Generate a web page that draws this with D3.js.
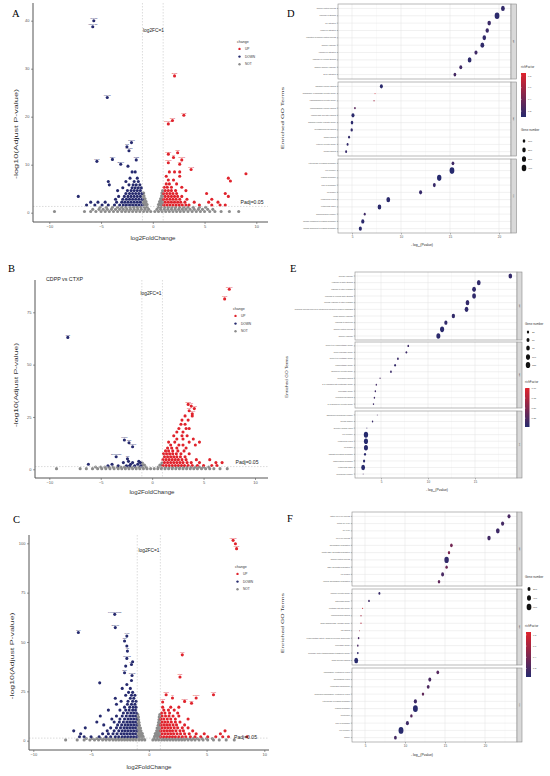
<!DOCTYPE html>
<html><head><meta charset="utf-8">
<script src="https://cdn.jsdelivr.net/npm/d3@7"></script>
<style>body{margin:0;background:#fff}svg{display:block}</style>
</head><body>
<svg id="fig" width="550" height="776"></svg>
<script>
// ---------------- Volcano data (rows: [y, x1, x2, ...]; labelled: [name, x, y]) ----------------
const xTicksVolcano = [-10, -5, 0, 5, 10];
const legendChange = ["UP", "DOWN", "NOT"];

const notRowsA = [
 [0.25,-9.5,-6.6,-6.0,-5.5,-5.0,-4.6,-4.2,-3.8,-3.4,-3.0,-2.65,-2.3,-1.95,-1.6,-1.25,-0.9,-0.55,-0.2,0.2,0.55,0.9,1.25,1.6,1.95,2.3,2.65,3.0,3.4,3.8,4.2,4.6,5.0,5.5,6.0,6.6,7.4,8.3],
 [0.7,-5.8,-5.2,-4.8,-4.4,-4.0,-3.6,-3.2,-2.85,-2.5,-2.15,-1.8,-1.45,-1.1,-0.75,-0.4,0.4,0.75,1.1,1.45,1.8,2.15,2.5,2.85,3.2,3.6,4.0,4.4,4.8,5.3,5.8],
 [1.15,-5.1,-4.5,-3.9,-3.4,-3.0,-2.6,-2.2,-1.85,-1.5,-1.15,-0.8,-0.55,0.55,0.8,1.15,1.5,1.85,2.2,2.6,3.0,3.4,3.9,4.5,5.1],
 [1.7,-0.95,-0.85,-0.75,-0.65,-0.55,0.55,0.65,0.75,0.85,0.95],
 [2.3,-0.95,-0.85,-0.75,-0.65,0.65,0.75,0.85,0.95],
 [2.9,-0.95,-0.85,-0.75,0.75,0.85,0.95],
 [3.5,-0.95,-0.85,0.85,0.95],
 [4.1,-0.95,-0.88,0.88,0.95],
 [4.6,0.95]
];
const downRowsA = [
 [1.6,-1.05,-1.35,-1.65,-1.95,-2.25,-2.55,-2.85,-3.2,-3.7,-4.3,-4.9,-5.6,-6.4],
 [2.2,-1.2,-1.5,-1.8,-2.1,-2.4,-2.7,-3.0,-3.5,-4.6,-5.3,-6.0],
 [2.8,-1.05,-1.35,-1.65,-1.95,-2.25,-2.55,-2.9,-3.6],
 [3.4,-1.2,-1.5,-1.8,-2.1,-2.4,-2.75,-3.3,-7.2],
 [4.0,-1.05,-1.35,-1.65,-1.95,-2.25,-2.6],
 [4.6,-1.2,-1.5,-1.8,-2.1,-2.45,-3.4],
 [5.2,-1.1,-1.4,-1.7,-2.0,-2.9],
 [5.8,-1.25,-1.6,-1.9,-2.3,-4.2],
 [6.5,-1.4,-1.8,-2.6,-4.3],
 [7.2,-1.5,-2.2],
 [8.5,-1.7,-2.0]
];
const downLabA = [
 ["Cxcl13",-5.7,40.0],["Ighv1-53",-5.8,38.75],["Ms4a1",-4.4,24.0],["Cd79b",-2.06,14.6],["Cr2",-2.5,13.75],
 ["Fcer2a",-2.3,12.9],["Pax5",-5.4,10.7],["Cd19",-3.9,11.1],["Bank1",-3.1,10.1],["Cd22",-1.6,11.0],["",-2.4,9.7]
];
const upRowsA = [
 [1.6,1.05,1.35,1.65,1.95,2.25,2.55,2.85,3.2,3.5,4.5,5.7,6.5,7.0],
 [2.2,1.2,1.5,1.8,2.1,2.4,2.7,3.1,4.0,5.4,6.3],
 [2.8,1.05,1.35,1.65,1.95,2.25,2.6,3.3,5.7],
 [3.4,1.2,1.5,1.8,2.1,2.4,2.8,7.3],
 [4.0,1.05,1.35,1.65,1.95,2.3,5.2,7.0],
 [4.6,1.2,1.5,1.8,2.2,3.2],
 [5.3,1.1,1.4,1.8,2.8],
 [6.0,1.3,1.6,2.3],
 [6.8,1.5,2.0],
 [7.6,1.3,2.6],
 [8.5,1.6,2.1,2.6]
];
const upLabA = [
 ["Saa3",2.1,28.5],["Lcn2",3.0,20.3],["Chil3",1.9,19.2],["S100a8",1.5,18.5],["Ngp",2.4,12.5],["Camp",1.5,12.2],
 ["Ltf",2.0,11.5],["Retnlg",2.8,11.0],["Mmp8",1.5,10.4],["Il1b",2.6,10.1],["Cxcl2",3.7,9.0],["",9.0,8.1],["",7.3,7.2],["",7.5,6.6]
];

const notRowsB = [
 [0.3,-9.3,-7.0,-6.4,-5.8,-5.3,-4.9,-4.5,-4.1,-3.7,-3.3,-2.95,-2.6,-2.25,-1.9,-1.55,-1.2,-0.85,-0.5,-0.15,0.2,0.55,0.9,1.25,1.6,1.95,2.3,2.65,3.0,3.35,3.7,4.05,4.4,4.8,5.2,5.6,6.0,6.6,7.3],
 [1.1,-5.5,-5.0,-4.6,-4.2,-3.8,-3.4,-3.05,-2.7,-2.35,-2.0,-1.65,-1.3,-0.95,-0.6,0.6,0.95,1.3,1.65,2.0,2.35,2.7,3.05,3.4,3.8,4.2,4.6,5.0,5.5],
 [2.0,-0.95,-0.75,0.75,0.95],
 [3.0,-0.95,0.95]
];
const downRowsB = [
 [1.7,-1.1,-1.7,-2.2,-2.5,-3.3,-4.3],
 [2.4,-1.4,-2.1,-3.9,-6.2],
 [3.2,-1.15,-1.9,-2.8],
 [3.8,-1.3,-2.3]
];
const downLabB = [["Ccl8",-8.2,63.0],["Mcpt1",-2.7,14.0],["Cd5l",-2.25,12.7],["Vcam1",-1.9,10.8],["Serpina3g",-3.5,6.0],["Cfh",-2.4,5.0]];
const upRowsB = [
 [1.8,1.05,1.35,1.65,1.95,2.25,2.55,2.85,3.15,3.5,3.9,4.4,5.0,5.8,6.3],
 [3.2,1.2,1.5,1.8,2.1,2.4,2.7,3.0,3.4,3.8,4.6,6.2,6.8],
 [4.6,1.05,1.35,1.65,1.95,2.25,2.55,2.9,3.3,4.3,5.6],
 [6.0,1.2,1.5,1.8,2.1,2.4,2.75,3.2],
 [7.4,1.1,1.4,1.7,2.0,2.35,2.8,3.6],
 [8.8,1.3,1.6,2.0,2.5,3.1],
 [10.2,1.5,1.9,2.4,3.3],
 [11.6,1.8,2.6,3.0,4.2],
 [13.0,1.6,2.2,3.6,4.6],
 [14.5,2.4,3.0,4.0],
 [16.0,2.1,2.9,3.4],
 [17.8,2.4,3.0],
 [19.5,2.6,3.3,3.6],
 [21.5,2.8,3.2],
 [23.5,2.9,3.5],
 [25.5,3.2,3.9]
];
const upLabB = [["Retnla",7.5,86.0],["Chil3",7.05,81.4],["Saa3",3.5,31.0],["Il1b",3.8,30.2],["Lcn2",4.1,29.0],["Ngp",3.6,28.0],["Camp",3.9,26.5]];

const notRowsC = [
 [0.4,-7.2,-6.2,-5.6,-5.1,-4.7,-4.35,-4.0,-3.7,-3.4,-3.1,-2.85,-2.6,-2.35,-2.1,-1.85,-1.6,-1.35,-1.1,-0.85,-0.6,-0.35,0.35,0.6,0.85,1.1,1.35,1.6,1.85,2.1,2.35,2.6,2.85,3.1,3.4,3.7,4.0,4.35,4.7,5.1,5.6,6.1,6.7,7.4],
 [1.1,-5.4,-4.9,-4.5,-4.15,-3.85,-3.55,-3.25,-2.95,-2.7,-2.45,-2.2,-1.95,-1.7,-1.45,-1.2,-0.95,-0.7,-0.45,0.45,0.7,0.95,1.2,1.45,1.7,1.95,2.2,2.45,2.7,2.95,3.25,3.55,3.85,4.2,4.6,5.0,5.5],
 [2.2,-0.95,-0.85,-0.75,-0.62,-0.5,0.5,0.62,0.75,0.85,0.95],
 [3.6,-0.95,-0.85,-0.75,-0.65,-0.56,0.56,0.65,0.75,0.85,0.95],
 [5.0,-0.95,-0.86,-0.77,-0.68,0.68,0.77,0.86,0.95],
 [6.4,-0.95,-0.87,-0.79,-0.72,0.72,0.79,0.87,0.95],
 [7.8,-0.95,-0.88,-0.81,0.81,0.88,0.95],
 [9.2,-0.95,-0.89,-0.84,0.84,0.89,0.95],
 [10.6,-0.95,-0.88,0.88,0.95],
 [12.0,-0.95,-0.9,0.9,0.95],
 [13.2,-0.95,0.95]
];
const downRowsC = [
 [2.0,-1.05,-1.3,-1.55,-1.8,-2.05,-2.3,-2.6,-2.9,-3.3,-3.7,-4.3,-5.0,-5.6,-6.0],
 [3.5,-1.15,-1.4,-1.65,-1.9,-2.15,-2.4,-2.75,-3.1,-3.5,-4.0,-5.9],
 [5.0,-1.05,-1.3,-1.55,-1.8,-2.05,-2.3,-2.6,-3.0,-3.6,-6.5],
 [6.5,-1.15,-1.4,-1.65,-1.9,-2.15,-2.45,-2.8,-3.3,-5.5],
 [8.0,-1.05,-1.3,-1.55,-1.8,-2.05,-2.35,-2.7,-3.9],
 [9.5,-1.15,-1.4,-1.65,-1.9,-2.2,-2.55,-3.0,-4.5],
 [11.0,-1.05,-1.3,-1.55,-1.8,-2.1,-2.5,-3.2],
 [12.5,-1.15,-1.4,-1.65,-1.95,-2.3,-2.8,-4.2],
 [14.0,-1.05,-1.3,-1.55,-1.85,-2.2],
 [15.5,-1.15,-1.4,-1.7,-2.0,-2.5,-3.5],
 [17.0,-1.1,-1.35,-1.65,-2.1],
 [18.5,-1.2,-1.5,-1.85,-2.8],
 [20.0,-1.1,-1.4,-1.8,-2.4],
 [21.5,-1.3,-1.6,-2.9],
 [23.0,-1.2,-1.5,-2.0],
 [24.5,-1.4,-1.75],
 [26.5,-1.6,-2.3],
 [28.5,-1.9],
 [30.5,-1.5]
];
const downLabC = [
 ["Fcer1a/Cpa3",-2.95,64.0],["Siglech",-2.9,57.3],["Ccr9",-6.1,54.8],["Ly6d",-1.9,53.0],["Cd7",-2.1,50.5],["",-1.9,48.0],
 ["Irf8",-1.85,45.4],["Cox6a2",-1.9,41.7],["",-1.4,40.0],["Tcf4",-1.5,38.6],["",-2.0,37.8],["Spib",-2.1,34.4],["Runx2",-1.45,33.0],["",-4.25,29.3]
];
const upRowsC = [
 [2.0,1.05,1.3,1.55,1.8,2.05,2.3,2.6,2.9,3.2,3.6,4.0,4.5,5.1,5.8,6.4,6.9,8.5],
 [3.5,1.15,1.4,1.65,1.9,2.15,2.45,2.75,3.1,3.5,4.1,4.8,6.2],
 [5.0,1.05,1.3,1.55,1.8,2.05,2.35,2.7,3.0,3.8,6.6],
 [6.5,1.15,1.4,1.65,1.9,2.2,2.5,2.9,3.4],
 [8.0,1.05,1.3,1.55,1.8,2.1,2.4,3.1],
 [9.5,1.15,1.4,1.65,1.95,2.3,2.7],
 [11.0,1.05,1.3,1.6,1.9,2.3,3.4],
 [12.5,1.15,1.45,1.75,2.1,2.6],
 [14.0,1.1,1.4,1.8,2.5],
 [15.5,1.3,1.7,2.2],
 [17.0,1.2,1.9,2.6]
];
const upLabC = [
 ["Ms4a3",7.3,101.5],["",7.5,99.8],["Prtn3",7.6,97.3],["Mpo",2.9,43.5],["Ctsg",2.7,32.3],["Chil3",1.5,23.3],
 ["Ltf",2.05,21.6],["Camp",3.1,19.9],["Ngp",3.7,19.0],["Cd177",4.1,21.6],["Fcnb",5.6,23.3],["Lcn2",1.2,19.6]
];

// ---------------- GO enrichment data (10 BP, 10 MF, 10 CC terms each) ----------------
const ontologies = ["BP", "MF", "CC"];

const dTerms = [
 "immune system process","response to stimulus","cell activation","leukocyte activation","regulation of immune system process","immune response","lymphocyte activation","response to external stimulus","adaptive immune response","B cell activation",
 "signaling receptor binding","sphingosine-1-phosphate receptor activity","lysophospholipid receptor activity","immunoglobulin receptor binding","carbohydrate derivative binding","signaling receptor regulator activity","glycosaminoglycan binding","antigen binding","cytokine receptor activity","heparin binding",
 "external side of plasma membrane","cell periphery","plasma membrane","side of membrane","cell surface","extracellular region","extracellular space","immunoglobulin complex","intrinsic component of plasma membrane","integral component of plasma membrane"];
const dLogP = [20.4,19.8,19.0,18.8,18.5,18.3,17.65,17.0,16.1,15.5, 8.0,7.35,7.25,5.3,5.1,5.0,4.97,4.7,4.55,4.4, 15.3,15.2,13.9,13.4,12.0,8.7,7.8,6.3,6.1,5.85];
const dGenes = [250,430,200,180,210,260,150,240,130,110, 140,8,10,30,150,90,70,50,45,45, 110,430,360,130,140,250,220,50,160,150];
const dRich = [0.15,0.12,0.18,0.18,0.15,0.14,0.2,0.13,0.2,0.22, 0.12,0.82,0.6,0.3,0.12,0.12,0.14,0.15,0.15,0.16, 0.2,0.1,0.1,0.17,0.16,0.12,0.12,0.2,0.12,0.12];
const dTicks = [5, 10, 15, 20];
const dGeneLegend = [100, 200, 300, 400];
const dRichLegend = [0.8, 0.6, 0.4, 0.2];

const eTerms = [
 "defense response","response to biotic stimulus","response to other organism","response to external biotic stimulus","defense response to other organism","biological process involved in interspecies interaction between organisms","innate immune response","response to bacterium","immune system process","immune response",
 "serine-type endopeptidase activity","serine hydrolase activity","serine-type peptidase activity","endopeptidase activity","chemokine receptor activity","hemoglobin binding","2'-5'-oligoadenylate synthetase activity","peroxidase activity","peptidoglycan binding","C-C chemokine receptor activity",
 "haptoglobin-hemoglobin complex","specific granule","secretory granule lumen","cell periphery","extracellular region","cell surface","basolateral plasma membrane","basal plasma membrane","extracellular space","hemoglobin complex"];
const eLogP = [18.76,15.4,14.9,14.9,14.2,14.1,12.7,11.9,11.5,11.1, 7.9,7.7,6.8,6.5,6.06,4.9,4.5,4.4,4.3,4.2, 4.6,4.1,3.5,3.4,3.4,3.4,3.3,3.2,3.1,3.1];
const eGenes = [75,80,88,88,78,82,60,55,100,95, 12,12,13,14,12,6,8,9,9,8, 5,8,5,115,100,95,20,22,85,5];
const eRich = [0.1,0.08,0.08,0.08,0.1,0.08,0.09,0.08,0.05,0.06, 0.15,0.14,0.13,0.1,0.12,0.2,0.18,0.15,0.15,0.15, 0.2,0.12,0.12,0.03,0.03,0.04,0.05,0.05,0.04,0.2];
const eTicks = [5, 10, 15];
const eGeneLegend = [25, 50, 75, 100, 125];
const eRichLegend = [1.0, 0.75, 0.5, 0.25];

const fTerms = [
 "mitotic cell cycle process","mitotic cell cycle","cell cycle","cell cycle process","chromosome segregation","mitotic sister chromatid segregation","immune system process","sister chromatid segregation","cell division","nuclear chromosome segregation",
 "immune receptor activity","antioxidant activity","peptidase activator activity","immunoglobulin binding","single-stranded DNA helicase activity","IgG binding","oxidoreductase activity, acting on peroxide as acceptor","peroxidase activity","secondary active transmembrane transporter activity","small molecule binding",
 "chromosome, centromeric region","chromosomal region","condensed chromosome","condensed chromosome, centromeric region","external side of plasma membrane","plasma membrane","kinetochore","side of membrane","cell periphery","spindle"];
const fLogP = [23.0,22.2,21.6,20.5,15.8,15.5,15.2,15.2,14.7,14.25, 6.8,5.5,4.7,4.5,4.5,4.3,4.2,4.1,4.1,3.9, 14.1,13.1,12.9,12.25,11.3,11.3,10.8,10.3,9.5,8.8];
const fGenes = [200,220,330,260,140,100,520,110,180,120, 60,40,12,14,14,10,30,30,40,380, 150,190,170,110,220,620,120,200,650,160];
const fRich = [0.2,0.18,0.15,0.17,0.38,0.42,0.1,0.35,0.2,0.3, 0.12,0.15,0.75,0.6,0.65,0.55,0.2,0.2,0.1,0.06, 0.25,0.2,0.22,0.3,0.15,0.06,0.25,0.15,0.06,0.18];
const fTicks = [5, 10, 15, 20];
const fGeneLegend = [200, 400, 600];
const fRichLegend = [0.8, 0.6, 0.4, 0.2];

// ---------------- drawing ----------------
const svg = d3.select("#fig");
const FONT = "'Liberation Sans', Arial, Helvetica, sans-serif";
const NAVY = "#262a6e", RED = "#e0232c", GREY = "#8c8c8c";
svg.append("rect").attr("width",550).attr("height",776).attr("fill","#fff");

const expandRows = rows => rows.flatMap(r => r.slice(1).map(x => [x, r[0]]));

function txt(g, x, y, s, size, opts = {}) {
  const t = g.append("text").attr("x", x).attr("y", y).text(s)
    .attr("font-family", opts.family || FONT).attr("font-size", size)
    .attr("fill", opts.fill || "#000").attr("text-anchor", opts.anchor || "start");
  if (opts.len) t.attr("textLength", opts.len).attr("lengthAdjust", "spacingAndGlyphs");
  if (opts.rot) t.attr("transform", `rotate(${opts.rot},${x},${y})`);
  return t;
}

function volcano(o) {
  const g = svg.append("g");
  const x = d3.scaleLinear().domain([-10, 10]).range(o.xr);
  const y = d3.scaleLinear().domain([0, o.yTicks[o.yTicks.length - 1]]).range(o.yr);
  const pts = [
    ...expandRows(o.notRows).map(p => ({ x: p[0], y: p[1], c: "NOT" })),
    ...expandRows(o.downRows).map(p => ({ x: p[0], y: p[1], c: "DOWN" })),
    ...o.downLab.map(p => ({ x: p[1], y: p[2], c: "DOWN" })),
    ...expandRows(o.upRows).map(p => ({ x: p[0], y: p[1], c: "UP" })),
    ...o.upLab.map(p => ({ x: p[1], y: p[2], c: "UP" }))
  ];
  const col = { UP: RED, DOWN: NAVY, NOT: GREY };
  g.append("g").selectAll("circle").data(pts).join("circle")
    .attr("cx", d => x(d.x)).attr("cy", d => y(d.y)).attr("r", 1.55)
    .attr("fill", d => col[d.c]);
  const labs = [...o.downLab.map(d => ({ n: d[0], x: d[1], y: d[2], c: NAVY })),
                ...o.upLab.map(d => ({ n: d[0], x: d[1], y: d[2], c: RED }))].filter(d => d.n);
  g.append("g").selectAll("text").data(labs).join("text")
    .attr("x", d => x(d.x)).attr("y", d => y(d.y) - 1.6).text(d => d.n)
    .attr("font-family", FONT).attr("font-size", 2.3).attr("fill", d => d.c).attr("text-anchor", "middle");
  const dash = "1.5,1.5";
  [-1, 1].forEach(v => g.append("line").attr("x1", x(v)).attr("x2", x(v)).attr("y1", o.top).attr("y2", o.bottom)
    .attr("stroke", "#c4c4c4").attr("stroke-width", 0.6).attr("stroke-dasharray", dash));
  g.append("line").attr("x1", o.left).attr("x2", o.right).attr("y1", y(-Math.log10(0.05))).attr("y2", y(-Math.log10(0.05)))
    .attr("stroke", "#c4c4c4").attr("stroke-width", 0.6).attr("stroke-dasharray", dash);
  const xa = g.append("g").attr("transform", `translate(0,${o.bottom})`)
    .call(d3.axisBottom(x).tickValues(xTicksVolcano).tickFormat(d3.format("d")).tickSize(2).tickPadding(1.5));
  const ya = g.append("g").attr("transform", `translate(${o.left},0)`)
    .call(d3.axisLeft(y).tickValues(o.yTicks).tickFormat(d3.format("d")).tickSize(2).tickPadding(1.5));
  [xa, ya].forEach(a => {
    a.select(".domain").remove();
    a.selectAll("line").attr("stroke", "#555").attr("stroke-width", 0.6);
    a.selectAll("text").attr("font-family", FONT).attr("font-size", 4).attr("fill", "#555");
  });
  g.append("line").attr("x1", o.left).attr("x2", o.right).attr("y1", o.bottom).attr("y2", o.bottom).attr("stroke", "#555").attr("stroke-width", 1);
  g.append("line").attr("x1", o.left).attr("x2", o.left).attr("y1", o.top).attr("y2", o.bottom).attr("stroke", "#555").attr("stroke-width", 1);
  txt(g, o.xTitle[0], o.xTitle[1], "log2FoldChange", 5.6, { anchor: "middle", len: 45, fill: "#333" });
  txt(g, o.yTitle[0], o.yTitle[1], "-log10(Adjust P-value)", 5.0, { anchor: "middle", rot: -90, len: o.yTitleLen, fill: "#333" });
  txt(g, o.fc[0], o.fc[1], "log2FC=1", 4.6, { anchor: "middle", len: 21, fill: "#222" });
  txt(g, o.padj[0], o.padj[1], "Padj=0.05", 4.6, { len: 23, fill: "#222" });
  txt(g, o.letter[0], o.letter[1], o.letterText, 10.5, { family: "'Liberation Serif', 'Times New Roman', serif" });
  if (o.subtitle) txt(g, o.subtitle[0], o.subtitle[1], o.subtitleText, 5.2, { len: 37, fill: "#222" });
  const lg = g.append("g");
  txt(lg, o.legend[0], o.legend[1], "change", 3.6, { fill: "#333" });
  legendChange.forEach((k, i) => {
    const yy = o.legend[1] + 7.5 + i * 7.7;
    lg.append("circle").attr("cx", o.legend[0] + 2.5).attr("cy", yy - 1.1).attr("r", 1.2).attr("fill", col[k]);
    txt(lg, o.legend[0] + 8, yy, k, 3.2, { fill: "#333" });
  });
}

function goPlot(o) {
  const g = svg.append("g");
  const x = d3.scaleLinear().domain([5, 10]).range(o.xr);
  const col = d3.scaleLinear().domain(o.richDom).range([NAVY, RED]).interpolate(d3.interpolateRgb).clamp(true);
  const gmin = d3.min(o.genes), gmax = d3.max(o.genes);
  const sz = d3.scaleLinear().domain([0, 1]).range([o.rmin, o.rmax]);
  const rOf = v => sz(Math.sqrt(Math.max(0, v - gmin) / (gmax - gmin)));
  const step = o.ticks[1] - o.ticks[0];
  const d0 = x.invert(o.left), d1 = x.invert(o.right);
  const minors = [o.ticks[0] - step / 2, ...o.ticks.map(t => t + step / 2)].filter(v => v > d0 && v < d1);
  const majors = o.ticks.filter(v => v > d0 && v < d1);
  ontologies.forEach((ot, i) => {
    const [t, b] = o.panels[i];
    const idx = d3.range(i * 10, i * 10 + 10);
    const y = d3.scalePoint().domain(idx).range([t, b]).padding(0.6);
    g.append("rect").attr("x", o.left).attr("y", t).attr("width", o.right - o.left).attr("height", b - t).attr("fill", "#fff");
    minors.forEach(v => g.append("line").attr("x1", x(v)).attr("x2", x(v)).attr("y1", t).attr("y2", b).attr("stroke", "#f2f2f2").attr("stroke-width", 0.4));
    majors.forEach(v => g.append("line").attr("x1", x(v)).attr("x2", x(v)).attr("y1", t).attr("y2", b).attr("stroke", "#e3e3e3").attr("stroke-width", 0.5));
    idx.forEach(k => g.append("line").attr("x1", o.left).attr("x2", o.right).attr("y1", y(k)).attr("y2", y(k)).attr("stroke", "#e3e3e3").attr("stroke-width", 0.5));
    g.append("g").selectAll("ellipse").data(idx).join("ellipse")
      .attr("cx", k => x(o.logp[k])).attr("cy", k => y(k))
      .attr("rx", k => rOf(o.genes[k]) * 0.72).attr("ry", k => rOf(o.genes[k]))
      .attr("fill", k => col(o.rich[k]));
    g.append("rect").attr("x", o.left).attr("y", t).attr("width", o.right - o.left).attr("height", b - t)
      .attr("fill", "none").attr("stroke", "#8a8a8a").attr("stroke-width", 0.6);
    g.append("rect").attr("x", o.right).attr("y", t).attr("width", o.stripW).attr("height", b - t)
      .attr("fill", "#d9d9d9").attr("stroke", "#8a8a8a").attr("stroke-width", 0.6);
    txt(g, o.right + o.stripW / 2 - 0.8, (t + b) / 2, ot, 2.4, { anchor: "middle", rot: 90, fill: "#333" });
    g.append("g").selectAll("line").data(idx).join("line")
      .attr("x1", o.left - 1.2).attr("x2", o.left).attr("y1", k => y(k)).attr("y2", k => y(k))
      .attr("stroke", "#555").attr("stroke-width", 0.4);
    g.append("g").selectAll("text").data(idx).join("text")
      .attr("x", o.left - 2).attr("y", k => y(k) + 0.6).text(k => o.terms[k])
      .attr("font-family", FONT).attr("font-size", 1.8).attr("fill", "#4d4d4d").attr("text-anchor", "end");
  });
  const bot = o.panels[2][1];
  const xa = g.append("g").attr("transform", `translate(0,${bot})`)
    .call(d3.axisBottom(x).tickValues(majors).tickFormat(d3.format("d")).tickSize(1.5).tickPadding(1.2));
  xa.select(".domain").remove();
  xa.selectAll("line").attr("stroke", "#555").attr("stroke-width", 0.4);
  xa.selectAll("text").attr("font-family", FONT).attr("font-size", 3).attr("fill", "#4d4d4d");
  const xt = txt(g, o.xTitle[0], o.xTitle[1], "- log", 3.4, { anchor: "middle", fill: "#222" });
  xt.append("tspan").attr("font-size", 2.4).attr("dy", 0.9).text("10");
  xt.append("tspan").attr("dy", -0.9).text("(Pvalue)");
  txt(g, o.yTitle[0], o.yTitle[1], "Enriched GO Terms", 3.2, { anchor: "middle", rot: -90, len: o.yTitleLen, fill: "#333" });
  txt(g, o.letter[0], o.letter[1], o.letterText, 10.5, { family: "'Liberation Serif', 'Times New Roman', serif" });
  const drawGene = (lx, ly, items, ys) => {
    txt(g, lx, ly, "Gene number", 3, { fill: "#333" });
    items.forEach((v, i) => {
      g.append("ellipse").attr("cx", lx + o.gDotDx).attr("cy", ys[i]).attr("rx", rOf(v) * 0.72).attr("ry", rOf(v)).attr("fill", "#111");
      txt(g, lx + o.gDotDx + 4, ys[i] + 0.9, String(v), 2.4, { fill: "#444" });
    });
  };
  const drawRich = (lx, ly, bar, labels, fmt) => {
    txt(g, lx, ly, "richFactor", 3, { fill: "#333" });
    const id = "grad" + o.letterText;
    const gr = svg.append("defs").append("linearGradient").attr("id", id).attr("x1", 0).attr("x2", 0).attr("y1", 1).attr("y2", 0);
    d3.range(0, 1.0001, 0.1).forEach(f => gr.append("stop").attr("offset", f)
      .attr("stop-color", col(o.richDom[0] + f * (o.richDom[1] - o.richDom[0]))));
    g.append("rect").attr("x", bar[0]).attr("y", bar[1]).attr("width", bar[2]).attr("height", bar[3] - bar[1]).attr("fill", `url(#${id})`);
    const yb = d3.scaleLinear().domain(o.richDom).range([bar[3], bar[1]]);
    labels.forEach(v => {
      g.append("line").attr("x1", bar[0]).attr("x2", bar[0] + 1).attr("y1", yb(v)).attr("y2", yb(v)).attr("stroke", "#fff").attr("stroke-width", 0.3);
      txt(g, bar[0] + bar[2] + 2, yb(v) + 0.8, d3.format(fmt)(v), 2.3, { fill: "#444" });
    });
  };
  drawGene(o.gLeg[0], o.gLeg[1], o.geneLegend, o.gLegYs);
  drawRich(o.rLeg[0], o.rLeg[1], o.rBar, o.richLegend, o.richFmt);
}

volcano({
  notRows: notRowsA, downRows: downRowsA, downLab: downLabA, upRows: upRowsA, upLab: upLabA,
  xr: [49.3, 256.3], yr: [212.7, 20.7], yTicks: [0, 10, 20, 30, 40],
  left: 33, right: 268, top: 3, bottom: 222,
  xTitle: [153, 240], yTitle: [18, 134], yTitleLen: 90,
  fc: [153.5, 31.5], padj: [240.5, 204], letter: [12, 17], letterText: "A", legend: [237, 42.5]
});
volcano({
  notRows: notRowsB, downRows: downRowsB, downLab: downLabB, upRows: upRowsB, upLab: upLabB,
  xr: [49.3, 255], yr: [469.3, 312.3], yTicks: [0, 25, 50, 75],
  left: 35, right: 268, top: 280, bottom: 478,
  xTitle: [152, 494], yTitle: [18, 385], yTitleLen: 84,
  fc: [151, 295], padj: [235.5, 464], letter: [8, 272], letterText: "B", legend: [233, 309.5],
  subtitle: [46, 281], subtitleText: "CDPP vs CTXP"
});
volcano({
  notRows: notRowsC, downRows: downRowsC, downLab: downLabC, upRows: upRowsC, upLab: upLabC,
  xr: [33.3, 264.3], yr: [740.7, 543.3], yTicks: [0, 25, 50, 75, 100],
  left: 29, right: 269, top: 535, bottom: 750,
  xTitle: [149, 769], yTitle: [14, 656], yTitleLen: 87,
  fc: [149, 552], padj: [234, 739], letter: [13, 523], letterText: "C", legend: [235, 567.5]
});

goPlot({
  terms: dTerms, logp: dLogP, genes: dGenes, rich: dRich, ticks: dTicks, richDom: [0.1, 0.85],
  xr: [352, 401], left: 338, right: 511, stripW: 5.5, panels: [[4, 79], [82, 156], [159, 233]],
  rmin: 0.55, rmax: 3.3, xTitle: [422, 246], yTitle: [284, 118], yTitleLen: 62,
  letter: [287, 17], letterText: "D",
  geneLegend: dGeneLegend, gLeg: [521, 131], gLegYs: [141, 150, 159, 168], gDotDx: 3,
  richLegend: dRichLegend, rLeg: [521, 67.5], rBar: [521, 73, 5, 117], richFmt: ".1f"
});
goPlot({
  terms: eTerms, logp: eLogP, genes: eGenes, rich: eRich, ticks: eTicks, richDom: [0.03, 1.0],
  xr: [381, 428], left: 355, right: 517, stripW: 5, panels: [[272, 340], [342, 408], [411, 478]],
  rmin: 0.55, rmax: 3.0, xTitle: [437, 491], yTitle: [288, 377], yTitleLen: 42,
  letter: [290, 272], letterText: "E",
  geneLegend: eGeneLegend, gLeg: [525, 325], gLegYs: [332, 340, 348, 357, 365], gDotDx: 3,
  richLegend: eRichLegend, rLeg: [525, 383], rBar: [525, 388, 4.5, 427], richFmt: ".2f"
});
goPlot({
  terms: fTerms, logp: fLogP, genes: fGenes, rich: fRich, ticks: fTicks, richDom: [0.05, 0.85],
  xr: [365, 405], left: 352, right: 517, stripW: 5, panels: [[512, 586], [589, 665], [668, 742]],
  rmin: 0.55, rmax: 3.4, xTitle: [422, 756], yTitle: [284, 623], yTitleLen: 60,
  letter: [287, 522], letterText: "F",
  geneLegend: fGeneLegend, gLeg: [525, 578], gLegYs: [589, 598, 607], gDotDx: 4,
  richLegend: fRichLegend, rLeg: [525, 627], rBar: [526, 632, 5, 677], richFmt: ".1f"
});
</script>
</body></html>
